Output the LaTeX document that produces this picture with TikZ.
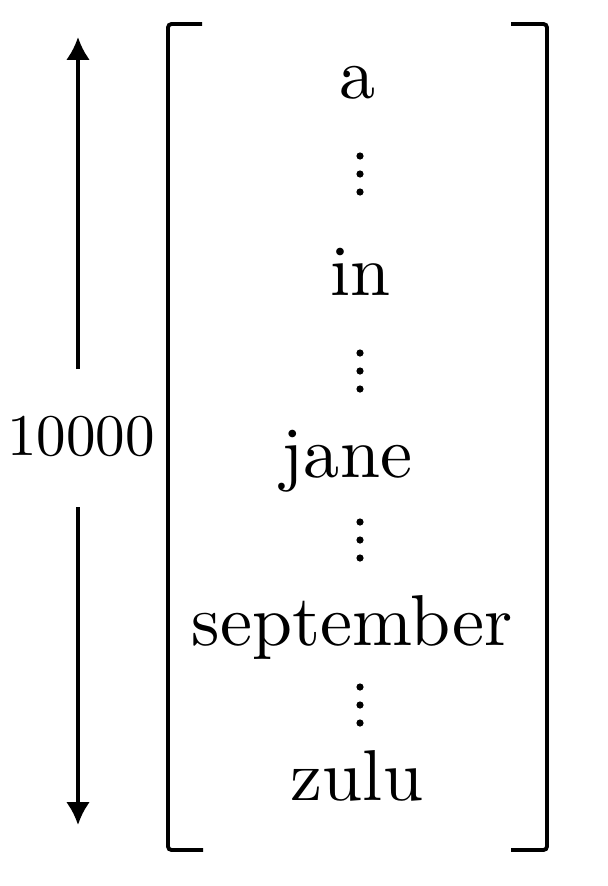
\documentclass[tikz,border=0pt]{standalone}
\usepackage{fontspec}
\newfontfamily\wordfont{lmroman10-regular.otf}
\usetikzlibrary{arrows.meta}
\tikzset{
  word/.style={anchor=base, inner sep=0pt, font=\wordfont\fontsize{41}{50}\selectfont},
  dimlabel/.style={inner sep=0pt, font=\wordfont\fontsize{33.6}{40}\selectfont},
  brack/.style={line width=2.2pt, rounded corners=2pt},
  dimline/.style={line width=2pt, -{Latex[length=13pt,width=13.5pt]}},
}

\begin{document}
\begin{tikzpicture}[x=0.02cm, y=-0.02cm]
		%%%%% START %%%%%
		\useasboundingbox (0, 0) rectangle (608, 886);
		
		% brackets
		\draw[brack] (202, 24) -- (168, 24) -- (168, 850) -- (203, 850);
		\draw[brack] (511, 24) -- (547, 24) -- (547, 850) -- (511, 850);
		
		% words
		\node[word] (w-a) at (358, 98) {a};
		\node[word] (w-in) at (361, 295) {in};
		\node[word] (w-jane) at (347, 477) {jane};
		\node[word] (w-sept) at (352, 645) {september};
		\node[word] (w-zulu) at (357, 800) {zulu};
		
		% dots between words
		\foreach \y in {174, 371, 540, 705}
			\foreach \d in {-18, 0, 18}
				\fill (360, \y+\d) circle (3.6);
		
		% dimension arrow
		\node[dimlabel] (dim) at (81, 436) {10000};
		\coordinate (dim-top) at (78, 37);
		\coordinate (dim-up) at (78, 369);
		\coordinate (dim-down) at (78, 507);
		\coordinate (dim-bot) at (78, 825);
		\draw[dimline] (dim-up) -- (dim-top);
		\draw[dimline] (dim-down) -- (dim-bot);
		
		%%%%% END %%%%%
	\end{tikzpicture}
\end{document}
